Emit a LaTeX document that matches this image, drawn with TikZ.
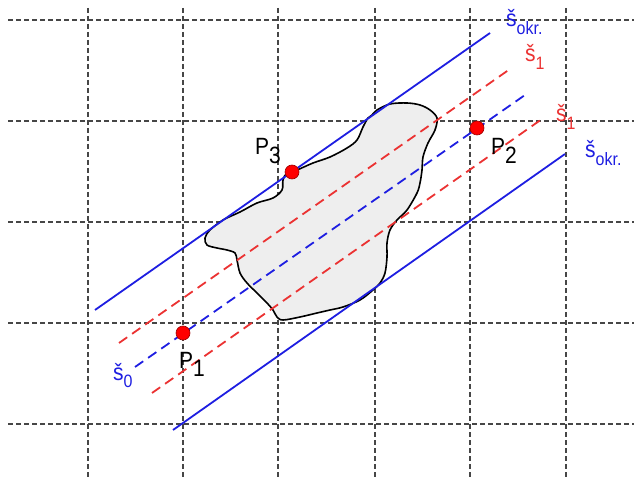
\documentclass[tikz,border=0pt]{standalone}
\usepackage{fontspec}
\setmainfont{Liberation Sans}
\usepackage{tikz}

\definecolor{osablue}{RGB}{30,30,225}
\definecolor{osared}{RGB}{235,50,50}
\definecolor{plocha}{RGB}{238,238,238}
\definecolor{mriez}{RGB}{70,70,70}

\newcommand{\vysoko}[1]{\scalebox{1}[1.12]{#1}}
\newcommand{\dolny}[1]{\raisebox{-7pt}{\fontsize{16}{18}\selectfont #1}}
\newcommand{\pdolny}[1]{\raisebox{-8pt}{#1}}

\tikzset{
  mriezka/.style={draw=mriez, line width=1.2pt, dash pattern=on 5pt off 3pt},
  osa/.style={draw=osablue, line width=1.8pt},
  osadash/.style={draw=osablue, line width=1.8pt, dash pattern=on 10pt off 6pt},
  okraj/.style={draw=osared, line width=1.8pt, dash pattern=on 10pt off 6pt},
  bod/.style={circle, fill=red, draw=red!60!black, line width=0.6pt, minimum size=14pt, inner sep=0pt},
  popis/.style={anchor=base west, inner sep=0pt, font=\fontsize{21}{24}\selectfont}
}

\begin{document}
\begin{tikzpicture}[x=1pt,y=-1pt]
  \useasboundingbox (0,0) rectangle (634,478);

  % mriezka
  \foreach \x in {88,183,278,375,470,566}
    \draw[mriezka] (\x,8) -- (\x,478);
  \foreach \y in {20,121,222,323,424}
    \draw[mriezka] (8,\y) -- (634,\y);

  % plocha
  \draw[fill=plocha, line width=1.6pt, line join=round] plot[smooth cycle, tension=0.55] coordinates {
    (372,115) (377,110) (390,104) (407,103) (420,105) (430,110) (437,118)
    (435,130) (428,143) (423,157) (422,170) (420,183) (417,193) (407,210)
    (397,220) (390,230) (387,243) (387,257) (385,273) (380,283) (373,290)
    (360,300) (343,307) (330,310) (317,313) (300,317) (283,320) (277,317)
    (273,310) (267,303) (257,293) (247,283) (240,273) (237,260) (235,253)
    (227,250) (217,248) (207,245) (205,238) (210,230) (223,220) (240,212)
    (257,203) (273,198) (282,190) (283,180) (287,173) (297,170) (313,163)
    (330,157) (347,148) (357,140) (363,127) (368,118)};

  % priamky
  \draw[osa] (95,310) -- (490,33);
  \draw[osa] (173,430) -- (565,154);
  \draw[okraj] (119,343) -- (510,69);
  \draw[okraj] (152,393) -- (542,119);
  \draw[osadash] (135,367) -- (525,95);

  % body
  \node[bod] (P1) at (183,333) {};
  \node[bod] (P2) at (477,128) {};
  \node[bod] (P3) at (292,172) {};

  \node[popis] (lP1) at (179,368) {\vysoko{P\pdolny{1}}};
  \node[popis] (lP2) at (491,155) {\vysoko{P\pdolny{2}}};
  \node[popis] (lP3) at (255,155) {\vysoko{P\pdolny{3}}};

  \node[popis, text=osablue] (sokrA) at (506,27) {\vysoko{š\dolny{okr.}}};
  \node[popis, text=osablue] (sokrB) at (585,158) {\vysoko{š\dolny{okr.}}};
  \node[popis, text=osared] (s1A) at (525,62) {\vysoko{š\dolny{1}}};
  \node[popis, text=osared] (s1B) at (556,122) {\vysoko{š\dolny{1}}};
  \node[popis, text=osablue] (s0) at (113,380) {\vysoko{š\dolny{0}}};
\end{tikzpicture}
\end{document}
